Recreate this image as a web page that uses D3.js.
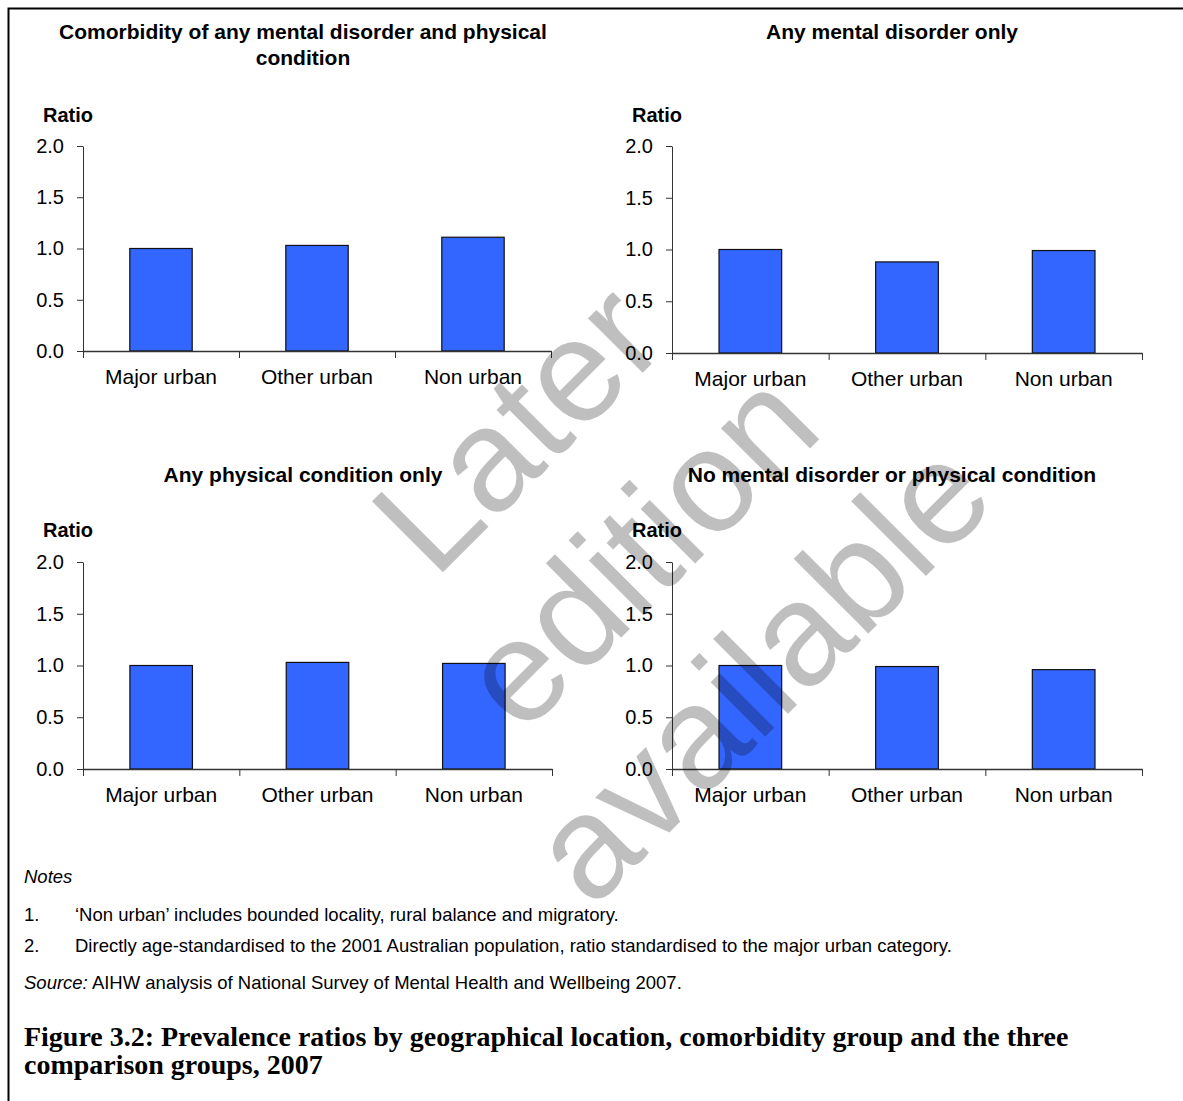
<!DOCTYPE html>
<html>
<head>
<meta charset="utf-8">
<script src="https://cdn.jsdelivr.net/npm/d3@7"></script>
<style>
  html, body { margin: 0; padding: 0; background: #fff; }
  svg { display: block; }
</style>
</head>
<body>
<svg id="fig" width="1183" height="1101"></svg>
<script>
// Locations on the x axis, shared by every panel
const categories = ["Major urban", "Other urban", "Non urban"];

// Age-standardised prevalence ratios (major urban = 1.0)
const comorbidRatios     = [1.00, 1.03, 1.11];
const mentalOnlyRatios   = [1.00, 0.88, 0.99];
const physicalOnlyRatios = [1.00, 1.03, 1.02];
const neitherRatios      = [1.00, 0.99, 0.96];

// Panel headings
const panelTitles = [
  ["Comorbidity of any mental disorder and physical", "condition"],
  ["Any mental disorder only"],
  ["Any physical condition only"],
  ["No mental disorder or physical condition"]
];

const yTicks = [0, 0.5, 1.0, 1.5, 2.0];
const yLabel = "Ratio";

const noteItems = [
  "\u2018Non urban\u2019 includes bounded locality, rural balance and migratory.",
  "Directly age-standardised to the 2001 Australian population, ratio standardised to the major urban category."
];
const sourceText = " AIHW analysis of National Survey of Mental Health and Wellbeing 2007.";
const captionLines = [
  "Figure 3.2: Prevalence ratios by geographical location, comorbidity group and the three",
  "comparison groups, 2007"
];
const stampLines = ["Later", "edition", "available"];

const SANS = "'Liberation Sans', Arial, Helvetica, sans-serif";
const SERIF = "'Liberation Serif', 'Times New Roman', serif";
const BAR_FILL = "#3366ff";
const AXIS = "#333";

const svg = d3.select("#fig");

// Page frame (left and top edges visible)
svg.append("path")
  .attr("d", "M8.5,1101 V8.5 H1183")
  .attr("fill", "none").attr("stroke", "#000").attr("stroke-width", 2);

// Panel placement: axis origin x, left/right of the plot, y of 0 and 2
const panels = [
  { values: comorbidRatios,     title: panelTitles[0], x0: 83,  x1: 551,  yZero: 351, yTop: 146, titleY: 39,  ratioY: 122 },
  { values: mentalOnlyRatios,   title: panelTitles[1], x0: 672, x1: 1142, yZero: 353, yTop: 146, titleY: 39,  ratioY: 122 },
  { values: physicalOnlyRatios, title: panelTitles[2], x0: 83,  x1: 552,  yZero: 769, yTop: 562, titleY: 482, ratioY: 537 },
  { values: neitherRatios,      title: panelTitles[3], x0: 672, x1: 1142, yZero: 769, yTop: 562, titleY: 482, ratioY: 537 }
];

panels.forEach(p => {
  const g = svg.append("g");

  const x = d3.scaleBand()
    .domain(categories)
    .range([p.x0, p.x1])
    .paddingInner(0.6)
    .paddingOuter(0.3);

  // Linear companion scale for the category boundary ticks
  const xEdge = d3.scaleLinear().domain([0, categories.length]).range([p.x0, p.x1]);

  const y = d3.scaleLinear().domain([0, 2]).range([p.yZero, p.yTop]);

  // Title
  const tt = g.append("text")
    .attr("x", p.x0 + 220)
    .attr("y", p.titleY)
    .attr("text-anchor", "middle")
    .attr("font-family", SANS)
    .attr("font-weight", "bold")
    .attr("font-size", 21)
    .attr("fill", "#000");
  p.title.forEach((line, i) => {
    tt.append("tspan").attr("x", p.x0 + 220).attr("dy", i === 0 ? 0 : 26).text(line);
  });

  // Axis label
  g.append("text")
    .attr("x", p.x0 - 40)
    .attr("y", p.ratioY)
    .attr("font-family", SANS)
    .attr("font-weight", "bold")
    .attr("font-size", 20)
    .attr("fill", "#000")
    .text(yLabel);

  // Bars
  g.selectAll("rect.bar")
    .data(p.values)
    .join("rect")
    .attr("class", "bar")
    .attr("x", (d, i) => x(categories[i]))
    .attr("width", x.bandwidth())
    .attr("y", d => y(d))
    .attr("height", d => y(0) - y(d))
    .attr("fill", BAR_FILL)
    .attr("stroke", "#111")
    .attr("stroke-width", 1.2);

  // Y axis
  const yAxis = g.append("g")
    .attr("transform", `translate(${p.x0},0)`)
    .call(d3.axisLeft(y).tickValues(yTicks).tickFormat(d3.format(".1f")).tickSize(6).tickSizeOuter(0).tickPadding(13));
  yAxis.select(".domain").attr("stroke", AXIS);
  yAxis.selectAll(".tick line").attr("stroke", AXIS);
  yAxis.selectAll(".tick text")
    .attr("font-family", SANS).attr("font-size", 20).attr("fill", "#000");

  // X axis: baseline and boundary ticks
  const xAxis = g.append("g")
    .attr("transform", `translate(0,${p.yZero})`)
    .call(d3.axisBottom(xEdge).tickValues(d3.range(categories.length + 1)).tickFormat("").tickSize(7).tickSizeOuter(0));
  xAxis.select(".domain").attr("stroke", AXIS).attr("stroke-width", 1.3);
  xAxis.selectAll(".tick line").attr("stroke", AXIS);

  // Category labels
  g.selectAll("text.cat")
    .data(categories)
    .join("text")
    .attr("class", "cat")
    .attr("x", d => x(d) + x.bandwidth() / 2)
    .attr("y", p.yZero + 33)
    .attr("text-anchor", "middle")
    .attr("font-family", SANS)
    .attr("font-size", 21)
    .attr("fill", "#000")
    .text(d => d);
});

// Notes and source
const notesG = svg.append("g").attr("font-family", SANS).attr("font-size", 18.5).attr("fill", "#000");
notesG.append("text").attr("x", 24).attr("y", 883).attr("font-style", "italic").text("Notes");
noteItems.forEach((t, i) => {
  const yy = 921 + i * 31;
  notesG.append("text").attr("x", 24).attr("y", yy).text((i + 1) + ".");
  notesG.append("text").attr("x", 75).attr("y", yy).text(t);
});
const src = notesG.append("text").attr("x", 24).attr("y", 989);
src.append("tspan").attr("font-style", "italic").text("Source:");
src.append("tspan").text(sourceText);

// Caption, sized so the first line spans the text block
const cap = svg.append("g").attr("font-family", SERIF).attr("font-weight", "bold").attr("fill", "#000");
const capTexts = captionLines.map((t, i) =>
  cap.append("text").attr("x", 24).attr("y", 1046 + i * 28).attr("font-size", 24).text(t)
);
const w0 = capTexts[0].node().getComputedTextLength();
const capSize = 24 * 1045 / w0;
capTexts.forEach(t => t.attr("font-size", capSize));

// Diagonal stamp across the figure
const stamp = svg.append("g").attr("transform", "rotate(-45)");
stampLines.forEach((t, i) => {
  stamp.append("text")
    .attr("x", 63)
    .attr("y", 718 + i * 172)
    .attr("text-anchor", "middle")
    .attr("font-family", SANS)
    .attr("font-size", 146)
    .attr("fill", "#000")
    .attr("fill-opacity", 0.25)
    .text(t);
});
</script>
</body>
</html>
